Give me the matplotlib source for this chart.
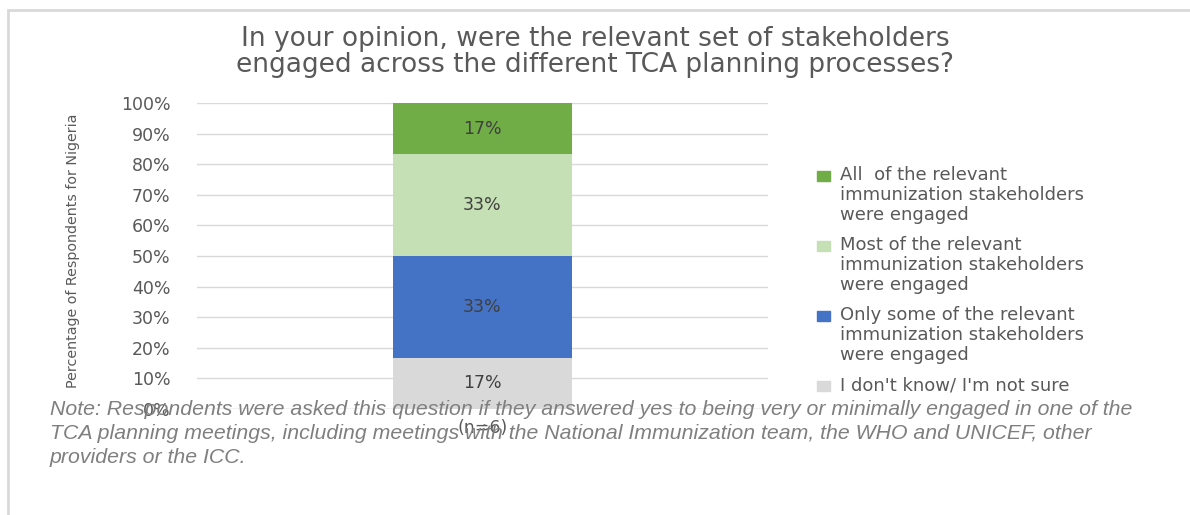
import matplotlib
matplotlib.use('Agg')
import matplotlib.pyplot as plt
from matplotlib.patches import Rectangle

# --- data ---
categories = ['(n=6)']
series_names = [
    "I don't know/ I'm not sure",
    'Only some of the relevant\nimmunization stakeholders\nwere engaged',
    'Most of the relevant\nimmunization stakeholders\nwere engaged',
    'All  of the relevant\nimmunization stakeholders\nwere engaged',
]
series_values = [16.67, 33.33, 33.33, 16.67]
series_labels = ['17%', '33%', '33%', '17%']
colors = ['#d9d9d9', '#4472c4', '#c5e0b4', '#70ad47']
ytick_values = list(range(0, 101, 10))

TITLE = ('In your opinion, were the relevant set of stakeholders\n'
         'engaged across the different TCA planning processes?')
NOTE = ('Note: Respondents were asked this question if they answered yes to being very or minimally engaged in one of the\n'
        'TCA planning meetings, including meetings with the National Immunization team, the WHO and UNICEF, other\n'
        'providers or the ICC.')

W, H = 1190, 515
fig = plt.figure(figsize=(W / 100, H / 100), dpi=100)

# outer frame
fig.patches.append(Rectangle((8 / W, -0.1), 1.2, 1 - 10 / H + 0.1, transform=fig.transFigure,
                             fill=False, edgecolor='#d9d9d9', linewidth=2))

ax = fig.add_axes([197 / W, 1 - 409 / H, (768 - 197) / W, (409 - 103) / H])
for s in ax.spines.values():
    s.set_visible(False)
ax.set_ylim(0, 100)
ax.set_xlim(-0.5, 0.5)
ax.set_yticks(ytick_values)
ax.set_yticklabels([f'{v}%' for v in ytick_values])
ax.tick_params(axis='y', length=0, labelsize=12.5, labelcolor='#595959', pad=19)
ax.tick_params(axis='x', length=0, labelsize=12.5, labelcolor='#595959', pad=7)
ax.grid(axis='y', color='#d9d9d9', linewidth=1)
ax.set_axisbelow(True)

bottom = 0
for val, lab, col in zip(series_values, series_labels, colors):
    ax.bar(0, val, width=0.312, bottom=bottom, color=col)
    ax.text(0, bottom + val / 2, lab, ha='center', va='center', fontsize=12.5, color='#404040')
    bottom += val
ax.set_xticks([0])
ax.set_xticklabels(categories)
ax.axhline(0, color='#d9d9d9', linewidth=1)

ax.set_ylabel('Percentage of Respondents for Nigeria', fontsize=10.3, color='#595959')
ax.yaxis.set_label_coords(-0.205, 0.516)

fig.text(0.5, 1 - 52 / H, TITLE, ha='center', va='center', fontsize=19, color='#595959',
         linespacing=1.05)

# legend: square aligned with the first line of each entry (top entry = last series)
line_h = 20.5
y = 176
for name, col in zip(series_names[::-1], colors[::-1]):
    fig.patches.append(Rectangle((817 / W, 1 - (y + 5) / H), 13 / W, 10 / H,
                                 transform=fig.transFigure, color=col))
    fig.text(840 / W, 1 - (y - 10) / H, name, ha='left', va='top', fontsize=13,
             color='#595959', linespacing=1.14)
    y += line_h * (name.count('\n') + 1) + 8.5

fig.text(50 / W, 1 - 400 / H, NOTE, ha='left', va='top', fontsize=15.3, color='#7f7f7f',
         style='italic', family='Liberation Sans', linespacing=1.34)

fig.savefig('out.png', dpi=100)
